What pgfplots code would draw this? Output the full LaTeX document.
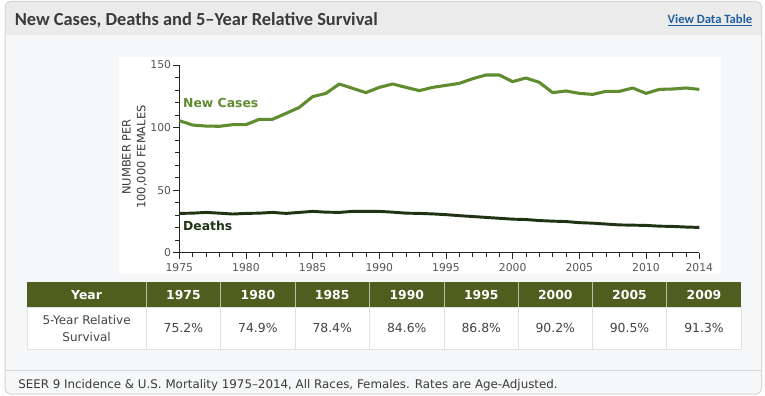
\documentclass[border=0pt]{standalone}
\usepackage{pgfplots}
\usepackage{pgfplotstable}
\pgfplotsset{compat=1.18}
\usepackage{fontspec}
\setmainfont{DejaVu Sans}
\newfontfamily\titlefont{Carlito}
\definecolor{casecol}{HTML}{5E8C2F}
\definecolor{deathcol}{HTML}{1F3312}
\definecolor{tabhead}{HTML}{4E5E1E}
\definecolor{titlecol}{HTML}{3A3A3A}
\definecolor{headbg}{HTML}{EBEBEB}
\definecolor{panelbg}{HTML}{F6F7F8}
\definecolor{panelborder}{HTML}{D6D6D6}
\definecolor{ticktext}{HTML}{555555}
\definecolor{linkcol}{HTML}{1E5FA0}
\definecolor{celltext}{HTML}{444444}
\definecolor{cellline}{HTML}{E2E2E2}

\pgfplotstableread{
year cases deaths
1975 105.5 31.4
1976 102.0 31.6
1977 101.2 32.2
1978 101.0 31.6
1979 102.3 30.9
1980 102.3 31.4
1981 106.6 31.6
1982 106.6 32.2
1983 111.3 31.4
1984 116.1 32.2
1985 124.7 33.0
1986 127.3 32.4
1987 134.8 32.2
1988 131.3 33.0
1989 127.9 33.0
1990 132.1 33.0
1991 134.8 32.4
1992 132.1 31.6
1993 129.5 31.4
1994 132.1 31.0
1995 133.7 30.4
1996 135.3 29.6
1997 139.0 28.9
1998 142.0 28.2
1999 142.0 27.5
2000 136.7 26.8
2001 139.6 26.5
2002 136.1 25.7
2003 127.9 25.2
2004 129.2 24.9
2005 127.3 24.0
2006 126.5 23.6
2007 128.9 22.9
2008 128.9 22.2
2009 131.6 22.0
2010 127.3 21.8
2011 130.5 21.2
2012 130.8 21.0
2013 131.6 20.5
2014 130.5 20.2
}\data

\begin{document}
\begin{tikzpicture}
\begin{scope}[x=0.75pt,y=-0.75pt]
\path[use as bounding box, fill=white] (0,0) rectangle (765,396);
% panel
\fill[panelbg, rounded corners=4pt] (5,1.5) rectangle (761.5,394);
\fill[headbg, rounded corners=4pt] (5,1.5) rectangle (761.5,35);
\fill[headbg] (5,20) rectangle (761.5,35);
\draw[panelborder, line width=0.75pt, rounded corners=4pt] (5,1.5) rectangle (761.5,394);
\fill[white] (119,57) rectangle (721,274);
\draw[panelborder, line width=0.75pt] (5,370) -- (761.5,370);
% title
\node[anchor=base west, inner sep=0, text=titlecol, font=\titlefont\bfseries\fontsize{13.8}{15}\selectfont] at (14.5,26) {New Cases, Deaths and 5–Year Relative Survival};
\node[anchor=base east, inner sep=0, text=linkcol, font=\titlefont\bfseries\fontsize{9.5}{11}\selectfont] at (752.5,23.5) {\underline{View Data Table}};
% y axis label
\node[rotate=90, align=center, text=titlecol, font=\fontsize{8.6}{11.2}\selectfont, inner sep=0] at (134.5,157) {NUMBER PER\\100,000 FEMALES};
% table
\fill[tabhead] (27.3,282.3) rectangle (741.3,307.3);
\fill[white] (27.3,307.3) rectangle (741.3,349);
\draw[cellline, line width=0.75pt] (27.3,307.3) rectangle (741.3,349);
\foreach \xx in {146,220.7,295,369.3,444.3,518.3,592.3,666.7} {
  \draw[white!60!tabhead, line width=0.6pt] (\xx,282.3) -- (\xx,307.3);
  \draw[cellline, line width=0.75pt] (\xx,307.3) -- (\xx,349);
}
\node[text=white, font=\bfseries\fontsize{9.3}{10}\selectfont] at (86.6,294.8) {Year};
\foreach \xc/\yr/\val in {183.4/1975/75.2, 257.9/1980/74.9, 332.2/1985/78.4, 406.8/1990/84.6, 481.3/1995/86.8, 555.3/2000/90.2, 629.5/2005/90.5, 704/2009/91.3} {
  \node[text=white, font=\bfseries\fontsize{9.3}{10}\selectfont] at (\xc,294.8) {\yr};
  \node[text=celltext, font=\fontsize{9.3}{10}\selectfont] at (\xc,328.2) {\val\%};
}
\node[text=celltext, align=center, font=\fontsize{9}{12.75}\selectfont] at (86.6,328.2) {5-Year Relative\\Survival};
% footer
\node[anchor=base west, inner sep=0, text=titlecol, font=\fontsize{8.9}{10}\selectfont] at (18,388) {SEER 9 Incidence \& U.S. Mortality 1975–2014, All Races, Females. Rates are Age-Adjusted.};
\end{scope}

\begin{axis}[
  at={(134.475pt,-189.525pt)}, anchor=south west,
  scale only axis, width=390pt, height=140.8pt,
  xmin=1975, xmax=2014, ymin=0, ymax=150,
  axis x line=bottom, axis y line=left,
  axis line style={-, draw=black!85, line width=0.75pt},
  xtick={1975,1980,1985,1990,1995,2000,2005,2010,2014},
  minor xtick={1976,...,2013},
  ytick={0,50,100,150},
  minor ytick={10,20,30,40,60,70,80,90,110,120,130,140},
  tick align=outside,
  tick style={draw=black!85, line width=0.6pt},
  major tick length=4.5pt,
  minor tick length=3pt,
  ticklabel style={text=ticktext, font=\fontsize{8.1}{9}\selectfont},
  yticklabel style={inner sep=1.5pt},
  xticklabel style={/pgf/number format/1000 sep={}},
  /pgf/number format/assume math mode=true,
  clip=false,
]
\addplot[casecol, line width=2.3pt, line join=round] table[x=year, y=cases] {\data};
\addplot[deathcol, line width=2.2pt, line join=round] table[x=year, y=deaths] {\data};
\node[anchor=west, inner sep=0, text=casecol, font=\bfseries\fontsize{9.3}{11}\selectfont] at (axis cs:1975.27,119.4) {New Cases};
\node[anchor=west, inner sep=0, text=deathcol, font=\bfseries\fontsize{9.3}{11}\selectfont] at (axis cs:1975.27,21.3) {Deaths};
\end{axis}
\end{tikzpicture}
\end{document}
